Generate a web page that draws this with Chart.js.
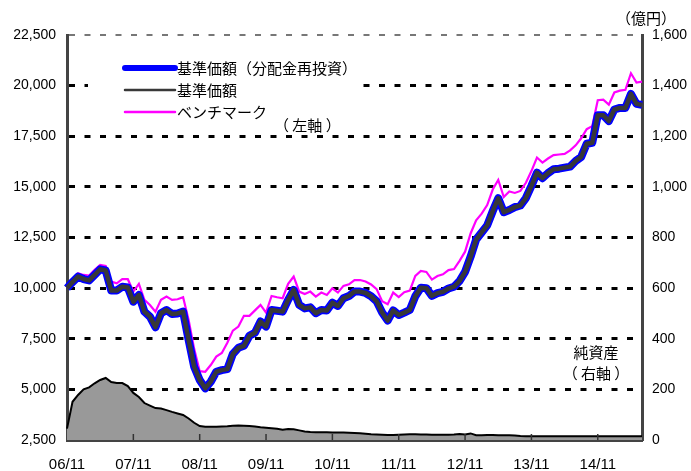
<!DOCTYPE html>
<html>
<head>
<meta charset="utf-8">
<script src="https://cdn.jsdelivr.net/npm/chart.js@4.4.1/dist/chart.umd.min.js"></script>
<style>
  html, body { margin: 0; padding: 0; background: #fff; }
  #wrap { width: 691px; height: 471px; }
</style>
</head>
<body>
<div id="wrap"><canvas id="c" width="691" height="471"></canvas></div>
<script>
// ---- categories: monthly, 2006/11 .. 2015/07 ----
const months = [];
for (let k = 0, y = 2006, m = 11; k < 105; k++) {
  months.push(String(y % 100).padStart(2, '0') + '/' + String(m).padStart(2, '0'));
  m++; if (m > 12) { m = 1; y++; }
}
const xTickLabels = ['06/11','07/11','08/11','09/11','10/11','11/11','12/11','13/11','14/11'];
const leftTicks = [2500, 5000, 7500, 10000, 12500, 15000, 17500, 20000, 22500];
const rightTicks = [0, 200, 400, 600, 800, 1000, 1200, 1400, 1600];

// 基準価額（分配金再投資）
const navReinvest = [
  10000,10300,10570,10450,10380,10650,10930,10870,9880,9880,10070,10030,
  9330,9660,8840,8590,8070,8760,8920,8720,8750,8840,7440,6120,
  5460,5050,5380,5870,5950,6000,6750,7050,7150,7650,7800,8350,
  8100,8920,8880,8840,9420,9910,9170,9000,9050,8760,8920,8900,
  9280,9120,9500,9610,9830,9830,9760,9600,9350,8800,8400,8900,
  8670,8790,8920,9600,10020,10000,9620,9750,9820,9980,10070,10350,
  10800,11550,12400,12750,13100,13800,14440,13750,13860,14000,14080,14450,
  15050,15700,15430,15680,15870,15900,15950,16000,16280,16480,17130,17180,
  18540,18540,18250,18820,18900,18900,19590,19100,19050
];
// 基準価額 (no distributions: identical)
const nav = navReinvest.slice();
// ベンチマーク
const benchmark = [
  10000,10400,10730,10650,10620,10900,11150,11100,10320,10240,10440,10440,
  9830,10210,9420,9170,8840,9420,9580,9420,9450,9550,8430,7000,
  5900,5870,6200,6620,6800,7300,7900,8100,8630,8630,8900,9170,
  8790,9610,9550,9500,10210,10570,9830,9710,9830,9580,9780,9660,
  9990,9780,10110,10190,10400,10400,10330,10180,9950,9350,9200,9780,
  9560,9800,9880,10600,10850,10800,10420,10600,10680,10890,10940,11350,
  11800,12700,13350,13680,14100,14870,15340,14500,14770,14700,14800,15200,
  15780,16450,16200,16400,16570,16600,16630,16800,17050,17400,17850,18000,
  19280,19310,19060,19660,19750,19790,20610,20150,20200
];
// 純資産（億円）
const netAssets = [
  45,151,178,200,208,224,237,245,229,225,225,213,
  186,170,146,136,126,124,118,111,105,99,85,68,
  55,52,52,52,53,54,56,57,56,55,53,50,
  48,46,44,41,43,42,38,34,32,31,31,31,
  30,30,30,29,28,27,25,23,22,21,20,20,
  21,22,23,23,22,22,21,21,21,21,22,24,
  22,26,19,19,20,20,19,19,19,18,16,15,
  15,15,15,15,15,15,15,15,15,15,15,15,
  15,15,15,15,15,15,15,15,15
];

const fmt = v => Number(v).toLocaleString('en-US');
const JP = "'Noto Sans CJK JP', sans-serif";
const NUM = "'Liberation Sans', Arial, sans-serif";

const innerTicks = {
  id: 'innerTicks',
  afterDatasetsDraw(chart) {
    const x = chart.scales.x, a = chart.chartArea, ctx = chart.ctx;
    ctx.save();
    ctx.strokeStyle = '#333'; ctx.lineWidth = 1.5;
    months.forEach((l, i) => {
      if (xTickLabels.includes(l) && i > 0) {
        const px = x.getPixelForValue(i);
        ctx.beginPath(); ctx.moveTo(px, a.bottom - 6); ctx.lineTo(px, a.bottom); ctx.stroke();
      }
    });
    ctx.restore();
  }
};

const annotations = {
  id: 'annotations',
  afterDraw(chart) {
    const ctx = chart.ctx;
    const ds = chart.data.datasets;
    ctx.save();
    // legend box
    ctx.fillStyle = '#fff';
    ctx.fillRect(88, 46, 272, 86);
    const rows = [ds[0], ds[1], ds[2]];
    const ys = [68, 90, 112];
    rows.forEach((d, i) => {
      ctx.strokeStyle = d.borderColor;
      ctx.lineWidth = i === 0 ? 6 : 2.5;
      ctx.lineCap = 'round';
      ctx.beginPath(); ctx.moveTo(125, ys[i]); ctx.lineTo(175, ys[i]); ctx.stroke();
      ctx.fillStyle = '#000';
      ctx.font = '15px ' + JP;
      ctx.textAlign = 'left'; ctx.textBaseline = 'middle';
      ctx.fillText(d.label, 177, ys[i]);
    });
    ctx.font = '15px ' + JP;
    ctx.textAlign = 'left'; ctx.textBaseline = 'middle';
    ctx.fillText('（ 左軸 ）', 274, 125);
    ctx.textAlign = 'center';
    ctx.fillText('純資産', 596, 352);
    ctx.fillText('（ 右軸 ）', 596, 373);
    ctx.fillText('（億円）', 646, 18);
    ctx.restore();
  }
};

new Chart(document.getElementById('c'), {
  type: 'line',
  data: {
    labels: months,
    datasets: [
      { label: '基準価額（分配金再投資）', data: navReinvest, yAxisID: 'y',
        borderColor: '#0000ff', borderWidth: 8, pointRadius: 0, tension: 0,
        borderJoinStyle: 'round', order: 1 },
      { label: '基準価額', data: nav, yAxisID: 'y',
        borderColor: '#383838', borderWidth: 4.5, pointRadius: 0, tension: 0,
        borderJoinStyle: 'round', order: 0 },
      { label: 'ベンチマーク', data: benchmark, yAxisID: 'y',
        borderColor: '#ff00ff', borderWidth: 2.2, pointRadius: 0, tension: 0,
        order: 2 },
      { label: '純資産', data: netAssets, yAxisID: 'y1',
        borderColor: '#000', borderWidth: 2, backgroundColor: '#999999',
        fill: 'origin', pointRadius: 0, tension: 0, order: 3 }
    ]
  },
  options: {
    responsive: false,
    animation: false,
    layout: { padding: { top: 35, left: 0, right: 0, bottom: 0 } },
    plugins: { legend: { display: false }, tooltip: { enabled: false } },
    scales: {
      x: {
        type: 'category',
        offset: false,
        grid: { display: false, drawTicks: false },
        border: { display: true, color: '#444', width: 3 },
        ticks: {
          autoSkip: false, maxRotation: 0, padding: 16,
          color: '#000', font: { family: NUM, size: 15 },
          callback: function (v, i) { const l = months[i]; return xTickLabels.includes(l) ? l : null; }
        },
        afterFit: s => { s.height = 31; }
      },
      y: {
        position: 'left',
        min: 2500, max: 22500,
        afterBuildTicks: s => { s.ticks = leftTicks.map(v => ({ value: v })); },
        grid: {
          drawTicks: false,
          color: c => c.tick.value === 2500 ? 'rgba(0,0,0,0)' : (c.tick.value === 22500 ? '#777' : '#000'),
          lineWidth: c => c.tick.value === 22500 ? 2 : 3
        },
        border: { display: true, color: '#444', width: 3, dash: [6, 9.5] },
        ticks: { padding: 11, color: '#000', font: { family: NUM, size: 14 }, callback: v => fmt(v) },
        afterFit: s => { s.width = 67; }
      },
      y1: {
        position: 'right',
        min: 0, max: 1600,
        afterBuildTicks: s => { s.ticks = rightTicks.map(v => ({ value: v })); },
        grid: { display: false, drawTicks: false },
        border: { display: true, color: '#444', width: 3 },
        ticks: { padding: 10, color: '#000', font: { family: NUM, size: 14 }, callback: v => fmt(v) },
        afterFit: s => { s.width = 49; }
      }
    }
  },
  plugins: [innerTicks, annotations]
});
</script>
</body>
</html>
